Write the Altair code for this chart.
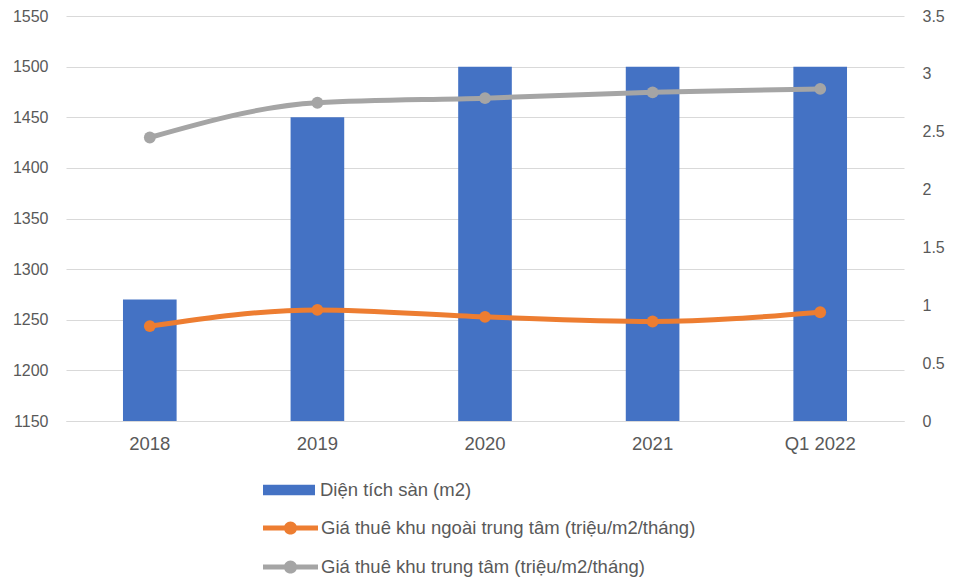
import altair as alt
import pandas as pd

years = ["2018", "2019", "2020", "2021", "Q1 2022"]
area = [1270, 1450, 1500, 1500, 1500]
outer = [0.82, 0.96, 0.90, 0.86, 0.94]
center = [2.45, 2.75, 2.79, 2.84, 2.87]

BAR = "Diện tích sàn (m2)"
OUT = "Giá thuê khu ngoài trung tâm (triệu/m2/tháng)"
CEN = "Giá thuê khu trung tâm (triệu/m2/tháng)"

C_BAR, C_OUT, C_CEN = "#4472C4", "#ED7D31", "#A5A5A5"
TXT = "#595959"
GRID = "#D9D9D9"
FONT = "Liberation Sans"

df = pd.DataFrame({"year": years, "area": area, "outer": outer, "center": center,
                   "lb_bar": [BAR] * 5, "lb_out": [OUT] * 5, "lb_cen": [CEN] * 5})

W, H = 838, 405

xenc = alt.X(
    "year:N", sort=years, title=None,
    scale=alt.Scale(paddingInner=0.68, paddingOuter=0.34),
    axis=alt.Axis(labelAngle=0, ticks=False, domain=True, domainColor=GRID,
                  labelPadding=13, labelFontSize=18.5),
)

BAR_PATH = "M-1,-0.2L1,-0.2L1,0.2L-1,0.2Z"
LINE_PATH = ("M-1,-0.09L1,-0.09L1,0.09L-1,0.09Z "
             "M-0.24,0A0.24,0.24 0 1,1 0.24,0A0.24,0.24 0 1,1 -0.24,0Z")


def leg(x, y, path, size, off):
    return alt.Legend(orient="none", legendX=x, legendY=y, title=None,
                      symbolType=path, symbolSize=size, symbolStrokeWidth=0,
                      labelFontSize=18.5, labelColor=TXT, labelFont=FONT,
                      labelOffset=off, padding=0, labelLimit=700)


bars = alt.Chart(df).mark_bar(clip=True).encode(
    x=xenc,
    y=alt.Y("area:Q", title=None,
            scale=alt.Scale(domain=[1150, 1550], zero=False, nice=False),
            axis=alt.Axis(values=list(range(1150, 1551, 50)), format="d",
                          ticks=False, domain=False, grid=True, gridColor=GRID,
                          labelPadding=18, orient="left")),
    fill=alt.Fill("lb_bar:N", scale=alt.Scale(domain=[BAR], range=[C_BAR]),
                  legend=leg(197, 448, BAR_PATH, 2704, 5)),
)

yr_axis = alt.Axis(values=[0, 0.5, 1, 1.5, 2, 2.5, 3, 3.5], format="~g",
                   ticks=False, domain=False, grid=False, labelPadding=18,
                   orient="right")
yr_scale = alt.Scale(domain=[0, 3.5], nice=False)


def series(field, lbfield, label, color, ly):
    line = alt.Chart(df).mark_line(color=color, strokeWidth=5,
                                   interpolate="monotone").encode(
        x=xenc,
        y=alt.Y(f"{field}:Q", title=None, scale=yr_scale, axis=yr_axis),
    )
    pts = alt.Chart(df).mark_circle(size=140, opacity=1).encode(
        x=xenc,
        y=alt.Y(f"{field}:Q", title=None, scale=yr_scale, axis=yr_axis),
        color=alt.Color(f"{lbfield}:N",
                        scale=alt.Scale(domain=[label], range=[color]),
                        legend=leg(197, ly, LINE_PATH, 3025, 3)),
    )
    return alt.layer(line, pts)


lines = alt.layer(
    series("outer", "lb_out", OUT, C_OUT, 484.5),
    series("center", "lb_cen", CEN, C_CEN, 523.5),
).resolve_scale(color="independent")

chart = alt.layer(bars, lines).resolve_scale(y="independent").properties(
    width=W, height=H,
    autosize=alt.AutoSizeParams(type="none"),
    padding={"left": 66, "top": 16, "right": 53, "bottom": 158},
).configure_view(stroke=None).configure_axis(
    labelFont=FONT, labelFontSize=16, labelColor=TXT,
)

chart.save("out.html", embed_options={"renderer": "svg", "actions": False})
